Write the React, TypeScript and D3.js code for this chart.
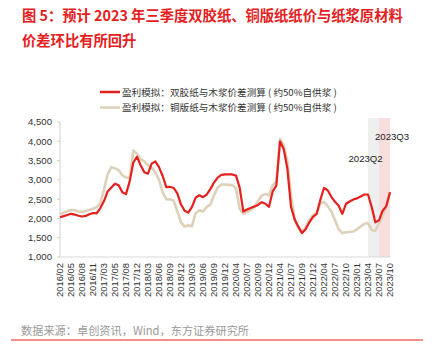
import React from "react";
import * as d3 from "d3";

// Category tick labels (evenly spaced on a category axis)
const tickLabels = [
  "2016/02","2016/05","2016/08","2016/11","2017/03","2017/05","2017/08","2017/12",
  "2018/03","2018/06","2018/09","2018/12","2019/03","2019/06","2019/09","2019/12",
  "2020/04","2020/07","2020/09","2020/12","2021/04","2021/07","2021/09","2021/12",
  "2022/04","2022/07","2022/10","2023/01","2023/04","2023/07","2023/10",
];

// Samples: 3 per label interval
const samplesPerLabel = 3;

const woodfreeSpread = [
  2030,2060,2090,2120,2100,2070,2050,2065,2110,2140,2130,2270,2450,2700,2800,2900,
  2860,2680,2630,2960,3450,3600,3380,3200,3160,3420,3480,3330,3100,2810,2820,2790,
  2650,2360,2200,2150,2300,2540,2600,2550,2620,2760,2930,3060,3130,3140,3140,3140,
  3110,2800,2180,2230,2270,2310,2350,2420,2380,2300,2700,2850,4000,3800,3300,2300,
  1980,1780,1620,1720,1900,2040,2120,2480,2790,2730,2560,2430,2330,2120,2380,2440,
  2490,2520,2570,2620,2620,2300,1900,1950,2200,2320,2680,
];

const coatedSpread = [
  2110,2150,2190,2220,2210,2180,2170,2190,2220,2250,2290,2400,2750,3150,3330,3300,
  3250,3120,3060,3050,3760,3680,3540,3480,3380,3320,3200,3000,2680,2500,2495,2460,
  2180,1900,1790,1820,1800,2140,2210,2180,2300,2360,2600,2800,2880,2880,2870,2860,
  2780,2250,2120,2170,2220,2290,2450,2590,2630,2600,2860,2950,4060,3900,3500,2600,
  1950,1780,1640,1770,1950,2080,2140,2380,2430,2320,2180,1950,1720,1620,1640,1650,
  1660,1720,1790,1860,1880,1700,1680,1870,2090,2300,2690,
];

const yTicks = [1000, 1500, 2000, 2500, 3000, 3500, 4000, 4500];

const seriesNames = [
  "盈利模拟：双胶纸与木浆价差测算 ( 约50%自供浆 )",
  "盈利模拟：铜版纸与木浆价差测算 ( 约50%自供浆 )",
];
const seriesColors = ["#e5201d", "#ddd1b9"];

// Highlighted quarters, in label-index units
const bands = [
  { label: "2023Q2", from: 28, to: 29, color: "#efefef" },
  { label: "2023Q3", from: 29, to: 30, color: "#f9dede" },
];

const titleLines = [
  "图 5：预计 2023 年三季度双胶纸、铜版纸纸价与纸浆原材料",
  "价差环比有所回升",
];
const sourceText = "数据来源：卓创资讯，Wind，东方证券研究所";

const W = 438, H = 355;
const plot = { left: 60, right: 390, top: 122, bottom: 257 };
const FONT = "'Liberation Sans', Arial, 'Noto Sans CJK SC', sans-serif";
const CJK = "'Noto Sans CJK SC', 'Liberation Sans', sans-serif";

export default function App() {
  const x = d3.scaleLinear().domain([0, tickLabels.length - 1]).range([plot.left, plot.right]);
  const y = d3.scaleLinear().domain([1000, 4500]).range([plot.bottom, plot.top]);
  const line = d3
    .line<number>()
    .x((_, i) => x(i / samplesPerLabel))
    .y((d) => y(d))
    .curve(d3.curveLinear);

  return (
    <div style={{ margin: -8, width: W, height: H, background: "#fff" }}>
      <svg width={W} height={H} style={{ display: "block" }}>
        <rect width={W} height={H} fill="#fff" />
        <line x1={12} x2={423} y1={5} y2={5} stroke="#e8504c" strokeWidth={1} />
        {titleLines.map((t, i) => (
          <text key={i} x={22} y={21 + i * 24.5} fontFamily={CJK} fontSize={14.3}
            fontWeight="bold" fill="#e5201d" style={{ whiteSpace: "pre" }}>{t}</text>
        ))}

        {/* legend */}
        {seriesNames.map((n, i) => (
          <g key={i} transform={`translate(0,${92 + i * 15.5})`}>
            <line x1={100} x2={120} y1={0} y2={0} stroke={seriesColors[i]} strokeWidth={2.5} />
            <text x={122} y={3.5} fontFamily={CJK} fontSize={9.6} fill="#333"
              style={{ whiteSpace: "pre" }}>{n}</text>
          </g>
        ))}

        {/* bands */}
        {bands.map((b) => (
          <rect key={b.label} x={x(b.from)} width={x(b.to) - x(b.from)} y={118}
            height={plot.bottom - 118} fill={b.color} />
        ))}

        {/* axes */}
        <line x1={plot.left} x2={plot.left} y1={plot.top} y2={plot.bottom} stroke="#d0d0d0" />
        <line x1={plot.left} x2={plot.right} y1={plot.bottom} y2={plot.bottom} stroke="#d9d9d9" />
        {yTicks.map((t) => (
          <g key={t}>
            <line x1={plot.left - 3} x2={plot.left} y1={y(t)} y2={y(t)} stroke="#d0d0d0" />
            <text x={52} y={y(t)} dy="0.35em" textAnchor="end" fontFamily={FONT}
              fontSize={9.6} fill="#333">{d3.format(",")(t)}</text>
          </g>
        ))}
        {tickLabels.map((l, i) => (
          <text key={l} transform={`translate(${x(i)},263) rotate(-90)`} dy="0.35em"
            textAnchor="end" fontFamily={FONT} fontSize={9.4} fill="#333">{l}</text>
        ))}

        {/* series */}
        <path d={line(coatedSpread) || ""} fill="none" stroke={seriesColors[1]}
          strokeWidth={2.6} strokeLinejoin="round" />
        <path d={line(woodfreeSpread) || ""} fill="none" stroke={seriesColors[0]}
          strokeWidth={2.2} strokeLinejoin="round" />

        {/* band labels */}
        <text x={348.5} y={159} dy="0.35em" fontFamily={FONT} fontSize={9.6} fill="#222">{bands[0].label}</text>
        <text x={375} y={137} dy="0.35em" fontFamily={FONT} fontSize={9.6} fill="#222">{bands[1].label}</text>

        <text x={21} y={335} fontFamily={CJK} fontSize={11.2} fill="#9a9a9a">{sourceText}</text>
        <line x1={11} x2={423} y1={340} y2={340} stroke="#e5201d" strokeWidth={1} />
      </svg>
    </div>
  );
}
